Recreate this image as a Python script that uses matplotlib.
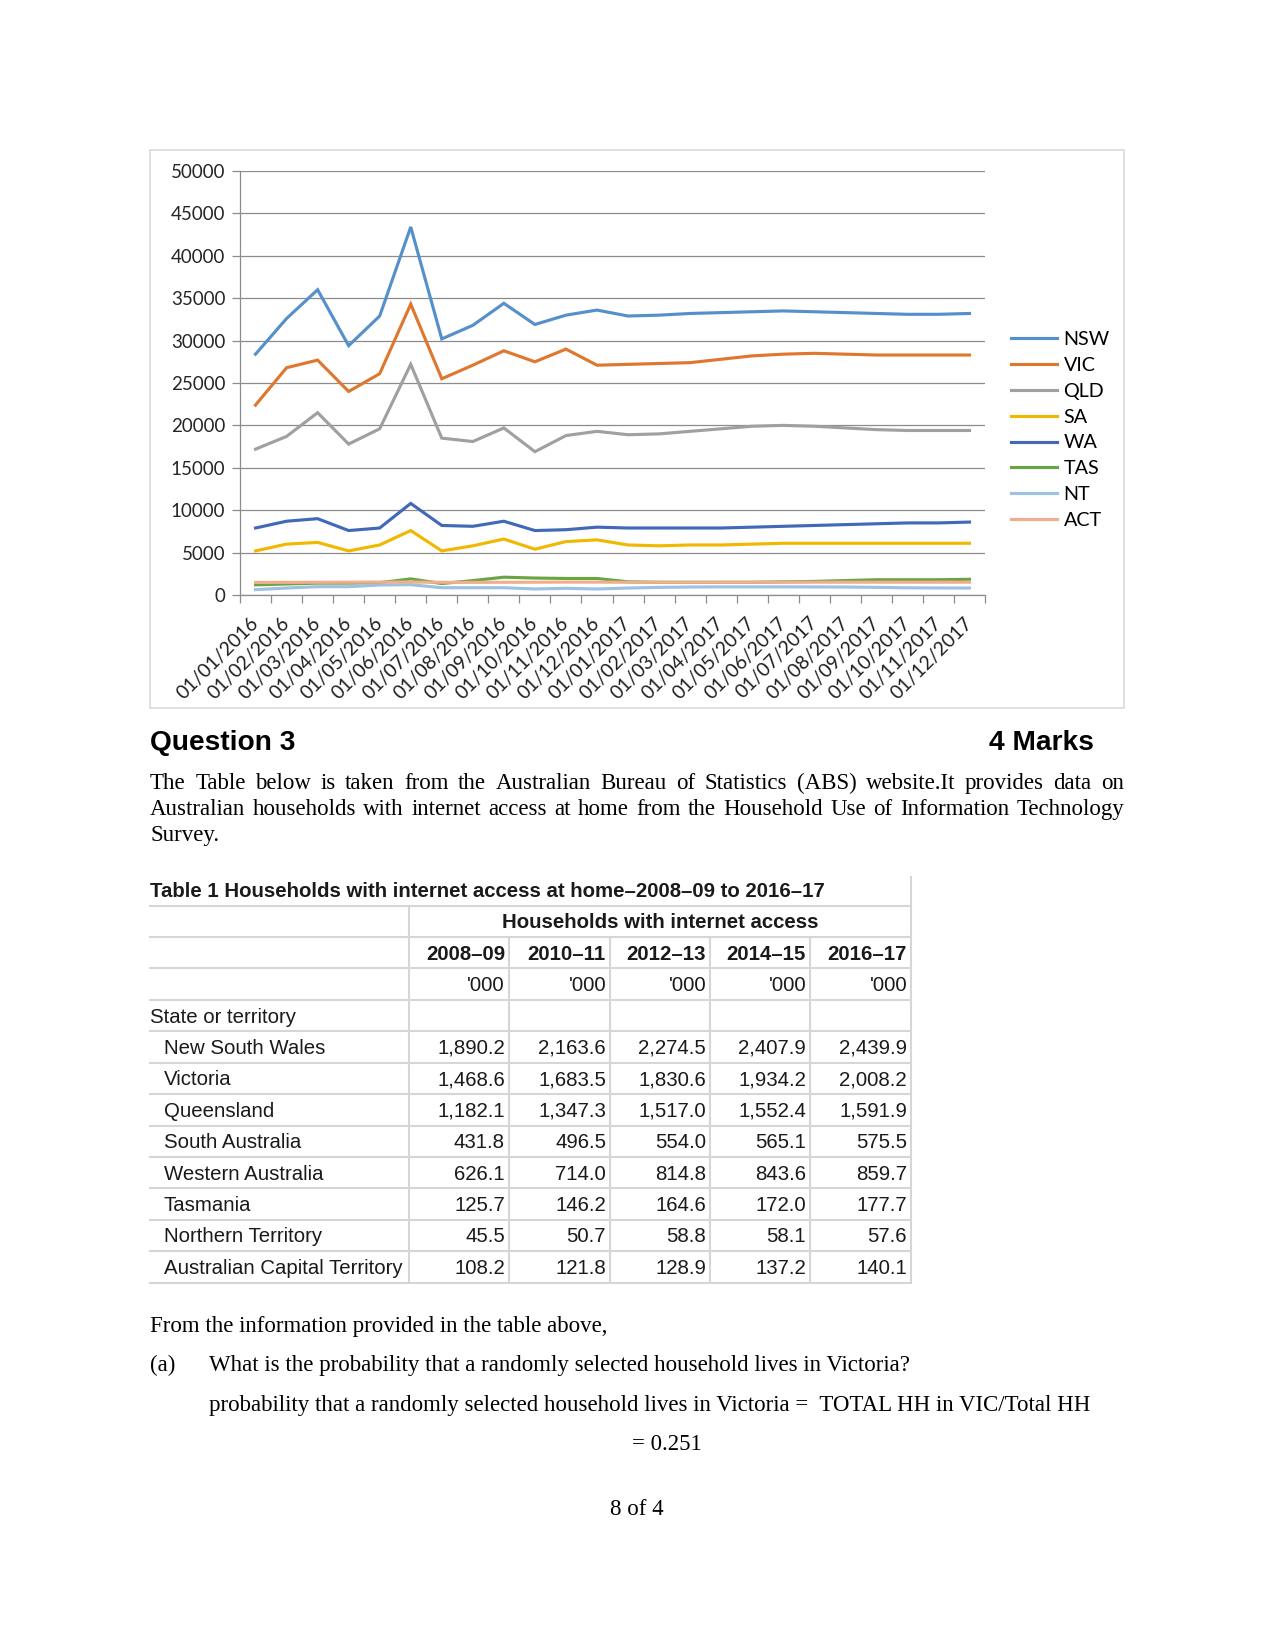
import matplotlib
matplotlib.use('Agg')
import matplotlib.pyplot as plt
from matplotlib.lines import Line2D
from matplotlib.patches import Rectangle

# chart data (households)
dates = ['01/%02d/%d' % (m, y) for y in (2016, 2017) for m in range(1, 13)]
nsw = [28400, 32600, 36000, 29400, 32900, 43400, 30200, 31800, 34400, 31900, 33000, 33600,
       32900, 33000, 33200, 33300, 33400, 33500, 33400, 33300, 33200, 33100, 33100, 33200]
vic = [22400, 26800, 27700, 24000, 26100, 34300, 25500, 27100, 28800, 27500, 29000, 27100,
       27200, 27300, 27400, 27800, 28200, 28400, 28500, 28400, 28300, 28300, 28300, 28300]
qld = [17200, 18700, 21500, 17800, 19600, 27200, 18500, 18100, 19700, 16900, 18800, 19300,
       18900, 19000, 19300, 19600, 19900, 20000, 19900, 19700, 19500, 19400, 19400, 19400]
sa = [5200, 6000, 6200, 5200, 5900, 7600, 5200, 5800, 6600, 5400, 6300, 6500,
      5900, 5800, 5900, 5900, 6000, 6100, 6100, 6100, 6100, 6100, 6100, 6100]
wa = [7900, 8700, 9000, 7600, 7900, 10800, 8200, 8100, 8700, 7600, 7700, 8000,
      7900, 7900, 7900, 7900, 8000, 8100, 8200, 8300, 8400, 8500, 8500, 8600]
tas = [1200, 1300, 1400, 1400, 1450, 1900, 1350, 1700, 2100, 2000, 1950, 1950,
       1550, 1500, 1500, 1500, 1500, 1550, 1600, 1700, 1800, 1800, 1800, 1850]
nt = [630, 820, 980, 980, 1180, 1220, 860, 860, 860, 710, 790, 710,
      820, 900, 940, 960, 960, 960, 950, 940, 900, 850, 830, 820]
act = [1480, 1490, 1500, 1510, 1520, 1530, 1500, 1490, 1500, 1510, 1520, 1520,
       1500, 1500, 1500, 1500, 1500, 1510, 1510, 1510, 1510, 1510, 1510, 1510]
series = ['NSW', 'VIC', 'QLD', 'SA', 'WA', 'TAS', 'NT', 'ACT']
colors = ['#5590CB', '#E0772E', '#A0A0A0', '#F0B800', '#4169B8', '#6AA543', '#9DC0E3', '#F0AE8C']

# table data ('000 households)
years = ['2008–09', '2010–11', '2012–13', '2014–15', '2016–17']
states = ['New South Wales', 'Victoria', 'Queensland', 'South Australia',
          'Western Australia', 'Tasmania', 'Northern Territory', 'Australian Capital Territory']
hh_nsw = [1890.2, 2163.6, 2274.5, 2407.9, 2439.9]
hh_vic = [1468.6, 1683.5, 1830.6, 1934.2, 2008.2]
hh_qld = [1182.1, 1347.3, 1517.0, 1552.4, 1591.9]
hh_sa = [431.8, 496.5, 554.0, 565.1, 575.5]
hh_wa = [626.1, 714.0, 814.8, 843.6, 859.7]
hh_tas = [125.7, 146.2, 164.6, 172.0, 177.7]
hh_nt = [45.5, 50.7, 58.8, 58.1, 57.6]
hh_act = [108.2, 121.8, 128.9, 137.2, 140.1]

W, H = 1275, 1650
fig = plt.figure(figsize=(W / 150, H / 150), dpi=150)


def fx(x):
    return x / W


def fy(y):
    return 1 - y / H


# chart frame
fig.add_artist(Rectangle((fx(150), fy(708)), (1124 - 150) / W, (708 - 150) / H,
                         transform=fig.transFigure, fill=False, edgecolor='#d9d9d9', lw=0.8))

ax = fig.add_axes([fx(240), fy(595), (985 - 240) / W, (595 - 171) / H])
x = range(len(dates))
for name, vals, c in zip(series, [nsw, vic, qld, sa, wa, tas, nt, act], colors):
    ax.plot(x, vals, color=c, lw=1.5, label=name, solid_joinstyle='miter')

ax.set_xlim(-0.5, len(dates) - 0.5)
ax.set_ylim(0, 50000)
ax.set_yticks(range(0, 50001, 5000))
ax.yaxis.grid(True, color='#8c8c8c', lw=0.6)
ax.set_axisbelow(True)
for s in ['top', 'right']:
    ax.spines[s].set_visible(False)
for s in ['left', 'bottom']:
    ax.spines[s].set_color('#8c8c8c')
    ax.spines[s].set_linewidth(0.6)
ax.tick_params(axis='y', length=3.8, width=0.6, color='#8c8c8c', pad=3.2,
               labelsize=9, labelcolor='#262626')
for lab in ax.get_yticklabels():
    lab.set_family('Lato')
ax.set_xticks(list(x))
ax.set_xticklabels(dates, rotation=45, ha='right', va='center', rotation_mode='anchor',
                   fontsize=9.3, family='Lato', color='#1f1f1f')
ax.tick_params(axis='x', length=0, pad=12)
ax.set_xticks([i - 0.5 for i in range(len(dates) + 1)], minor=True)
ax.tick_params(axis='x', which='minor', length=3.8, width=0.6, color='#8c8c8c')

ax.legend(loc='center left', bbox_to_anchor=(fx(1011), fy(430)), bbox_transform=fig.transFigure,
          frameon=False, prop={'family': 'Lato', 'size': 9.5}, handlelength=2.3,
          handletextpad=0.35, labelspacing=0.45, borderpad=0, borderaxespad=0)

# page text
serif = 'Liberation Serif'
sans = 'Liberation Sans'
fig.text(fx(150), fy(750), 'Question 3', family=sans, weight='bold', fontsize=13.5)
fig.text(fx(1094), fy(750), '4 Marks', family=sans, weight='bold', fontsize=13.5, ha='right')

renderer = fig.canvas.get_renderer()


def justify(line, y, x0, x1, size=11):
    words = line.split()
    widths = []
    for w in words:
        t = fig.text(0, 0, w, family=serif, fontsize=size)
        widths.append(t.get_window_extent(renderer).width)
        t.remove()
    gap = (x1 - x0 - sum(widths)) / (len(words) - 1)
    pos = x0
    for w, wd in zip(words, widths):
        fig.text(fx(pos), fy(y), w, family=serif, fontsize=size)
        pos += wd + gap


justify('The Table below is taken from the Australian Bureau of Statistics (ABS) website.It provides data on',
        789, 150, 1124)
justify('Australian households with internet access at home from the Household Use of Information Technology',
        815, 150, 1124)
fig.text(fx(150), fy(841), 'Survey.', family=serif, fontsize=11)

# table
col_edges = [150, 409, 509, 610, 710, 810, 911]
row_c = [890 + 31.4 * i for i in range(13)]
line_c = '#d6d6d6'
for i in range(1, 13):
    yl = row_c[i] - 15.7
    fig.add_artist(Line2D([fx(150), fx(911)], [fy(yl), fy(yl)], color=line_c, lw=1.0))
yl = row_c[12] + 15.7
fig.add_artist(Line2D([fx(150), fx(911)], [fy(yl), fy(yl)], color=line_c, lw=1.0))
for xe in col_edges[1:]:
    if xe == 911:
        top = row_c[0] - 13
    elif xe == 409:
        top = row_c[1] - 15.7
    else:
        top = row_c[2] - 15.7
    fig.add_artist(Line2D([fx(xe), fx(xe)], [fy(top), fy(row_c[12] + 15.7)], color=line_c, lw=1.0))


def tt(xp, yc, s, **kw):
    fig.text(fx(xp), fy(yc + 7), s, family=sans, fontsize=9.8, color='#1a1a1a', **kw)


tt(150, row_c[0], 'Table 1 Households with internet access at home–2008–09 to 2016–17', weight='bold')
tt(660, row_c[1], 'Households with internet access', weight='bold', ha='center')
for j, yr in enumerate(years):
    tt(col_edges[j + 2] - 4, row_c[2], yr, weight='bold', ha='right')
    tt(col_edges[j + 2] - 4, row_c[3], "'000", ha='right')
tt(150, row_c[4], 'State or territory')
table_vals = [hh_nsw, hh_vic, hh_qld, hh_sa, hh_wa, hh_tas, hh_nt, hh_act]
for i, (st, vals) in enumerate(zip(states, table_vals)):
    yc = row_c[5 + i]
    tt(164, yc, st)
    for j, v in enumerate(vals):
        tt(col_edges[j + 2] - 4, yc, f'{v:,.1f}', ha='right')

fig.text(fx(150), fy(1332), 'From the information provided in the table above,', family=serif, fontsize=11)
fig.text(fx(150), fy(1371.5), '(a)', family=serif, fontsize=11)
fig.text(fx(209), fy(1371.5), 'What is the probability that a randomly selected household lives in Victoria?',
         family=serif, fontsize=11)
fig.text(fx(209), fy(1411), 'probability that a randomly selected household lives in Victoria =  TOTAL HH in VIC/Total HH',
         family=serif, fontsize=11)
fig.text(fx(667), fy(1450.5), '= 0.251', family=serif, fontsize=11, ha='center')
fig.text(fx(637), fy(1515), '8 of 4', family=serif, fontsize=11, ha='center')

fig.savefig('out.png', dpi=150, facecolor='white')
